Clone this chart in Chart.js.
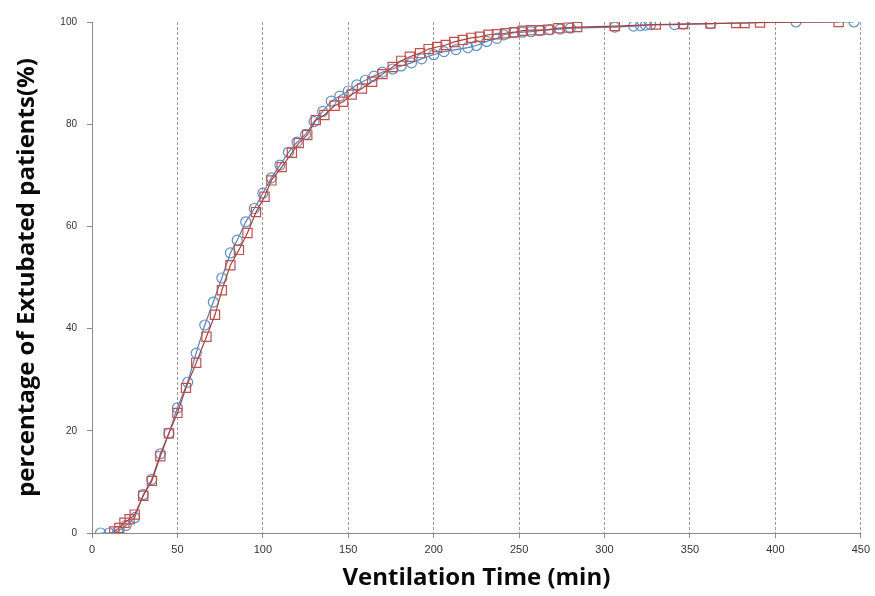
<!DOCTYPE html>
<html>
<head>
<meta charset="utf-8">
<script src="https://cdn.jsdelivr.net/npm/chart.js@4/dist/chart.umd.min.js"></script>
<style>
    html, body { margin: 0; padding: 0; background: #fff; }
    #wrap { width: 875px; height: 596px; }
</style>
</head>
<body>
<div id="wrap"><canvas id="extubationChart" width="875" height="596"></canvas></div>
<script>
// Ventilation time (min) and cumulative % extubated
const circleTimes = [5, 10, 15, 20, 25, 30, 35, 40, 45, 50, 56, 61, 66, 71, 76, 81, 85, 90, 95, 100,
    105, 110, 115, 120, 125, 130, 135, 140, 145, 150, 155, 160, 165, 170, 176, 181, 187, 193, 200, 206,
    213, 220, 225, 231, 237, 241, 247, 252, 257, 262, 268, 274, 280, 306, 317, 321, 324, 327, 341, 346,
    362, 412, 446];
const circleValues = [0, 0, 0.3, 1.5, 3, 7.5, 10.5, 15.5, 19.5, 24.5, 29.5, 35.2, 40.7, 45.2, 49.9, 54.8, 57.3, 60.9, 63.5, 66.5,
    69.5, 72, 74.5, 76.5, 78, 80.5, 82.5, 84.5, 85.5, 86.5, 87.7, 88.6, 89.4, 90.2, 90.8, 91.4, 92, 92.8, 93.6, 94.2,
    94.6, 95, 95.4, 96.2, 96.8, 97.5, 97.9, 98, 98.1, 98.3, 98.5, 98.6, 98.8, 99, 99.2, 99.3, 99.4, 99.5, 99.5, 99.6,
    99.7, 100, 100];

const squareTimes = [13, 16, 19, 22, 25, 30, 35, 40, 45, 50, 55, 61, 67, 72, 76, 81, 86, 91, 96, 101,
    105, 111, 117, 121, 126, 131, 136, 142, 147, 152, 158, 164, 170, 176, 181, 186, 192, 197, 202, 207,
    212, 217, 222, 227, 232, 237, 242, 247, 252, 257, 262, 267, 273, 279, 284, 306, 330, 346, 362, 377,
    382, 391, 437];
const squareValues = [0.3, 1, 2, 2.7, 3.6, 7.3, 10.2, 15, 19.5, 23.5, 28.4, 33.3, 38.4, 42.7, 47.5, 52.4, 55.4, 58.7, 62.8, 65.8,
    69, 71.6, 74.4, 76.3, 77.9, 80.8, 81.8, 83.6, 84.4, 85.8, 87, 88.3, 89.8, 91.2, 92.4, 93.2, 93.9, 94.7, 95.1, 95.5,
    96.1, 96.5, 96.9, 97.1, 97.5, 97.6, 97.8, 98, 98.3, 98.4, 98.4, 98.5, 98.8, 98.9, 99, 99.2, 99.5, 99.6, 99.7, 99.8,
    99.8, 99.9, 100];

const xTickValues = [0, 50, 100, 150, 200, 250, 300, 350, 400, 450];
const yTickValues = [0, 20, 40, 60, 80, 100];

const xTitle = 'Ventilation Time (min)';
const yTitle = 'percentage of Extubated patients(%)';

function toPoints(xs, ys) {
    return xs.map((x, i) => ({ x: x, y: ys[i] }));
}

const axisGray = '#8c8c8c';
const titleFont = { family: '"Open Sans", "DejaVu Sans", sans-serif', size: 24, weight: 'bold' };
const tickFont = { family: '"Liberation Sans", Arial, sans-serif', size: 11 };

new Chart(document.getElementById('extubationChart'), {
    type: 'scatter',
    data: {
        datasets: [
            {
                label: 'squares',
                data: toPoints(squareTimes, squareValues),
                showLine: true,
                borderColor: '#a9403e',
                borderWidth: 1.2,
                pointStyle: 'rect',
                pointRadius: 6.5,
                pointBorderColor: '#c0504d',
                pointBackgroundColor: 'rgba(0,0,0,0)',
                pointBorderWidth: 1.2
            },
            {
                label: 'circles',
                data: toPoints(circleTimes, circleValues),
                showLine: true,
                borderColor: '#5a7fb0',
                borderWidth: 1.2,
                pointStyle: 'circle',
                pointRadius: 5,
                pointBorderColor: '#5f90c4',
                pointBackgroundColor: 'rgba(0,0,0,0)',
                pointBorderWidth: 1.2
            }
        ]
    },
    options: {
        responsive: false,
        animation: false,
        layout: { padding: { left: 0, top: 22, right: 13, bottom: 0 } },
        plugins: {
            legend: { display: false },
            tooltip: { enabled: false }
        },
        scales: {
            x: {
                type: 'linear',
                min: 0,
                max: 450,
                afterBuildTicks: scale => { scale.ticks = xTickValues.map(v => ({ value: v })); },
                afterFit: scale => { scale.height = 63; },
                ticks: { color: '#333', font: tickFont, padding: 5, maxRotation: 0 },
                grid: { color: '#999', tickLength: 5, tickColor: axisGray, lineWidth: 1 },
                border: { color: axisGray, width: 1, dash: [3, 2] },
                title: { display: true, text: xTitle, color: '#0a0a0a', font: titleFont, padding: { bottom: 3 } }
            },
            y: {
                type: 'linear',
                min: 0,
                max: 100,
                afterBuildTicks: scale => { scale.ticks = yTickValues.map(v => ({ value: v })); },
                afterFit: scale => { scale.width = 92; },
                ticks: { color: '#333', font: { family: '"Liberation Sans", Arial, sans-serif', size: 10 }, padding: 10 },
                grid: { drawOnChartArea: false, tickLength: 5, tickColor: axisGray },
                border: { color: axisGray, width: 1 },
                title: { display: true, text: yTitle, color: '#0a0a0a', font: titleFont, padding: { top: 13 } }
            }
        }
    }
});
</script>
</body>
</html>
